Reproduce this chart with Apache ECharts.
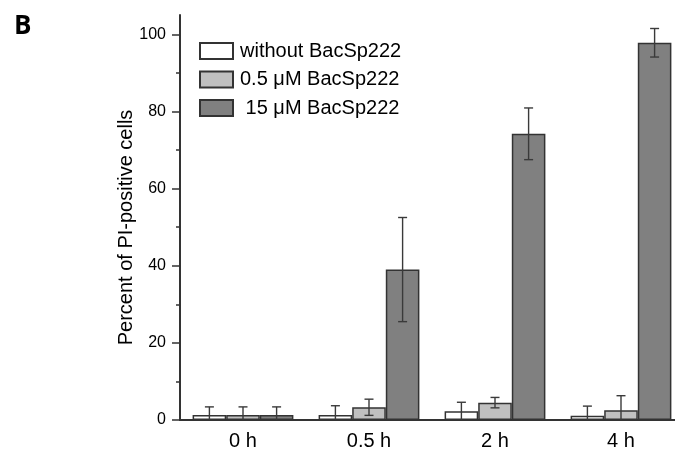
<!DOCTYPE html>
<html>
<head>
<meta charset="utf-8">
<script src="https://cdn.jsdelivr.net/npm/echarts@6/dist/echarts.min.js"></script>
<style>html,body{margin:0;padding:0;background:#fff}#c{width:675px;height:451px}</style>
</head>
<body>
<div id="c"></div>
<script>
var categories = ['0 h', '0.5 h', '2 h', '4 h'];
var seriesNames = ['without BacSp222', '0.5 \u03bcM BacSp222', ' 15 \u03bcM BacSp222'];
var withoutVals = [1.3, 1.3, 2.3, 1.1];
var withoutErr = [2.1, 2.4, 2.3, 2.5];
var lowVals = [1.3, 3.3, 4.5, 2.5];
var lowErr = [2.1, 2.1, 1.35, 3.8];
var highVals = [1.3, 39.0, 74.2, 97.8];
var highErr = [2.1, 13.5, 6.7, 3.7];
var yMajorTicks = [0, 20, 40, 60, 80, 100];
var yMinorTicks = [10, 30, 50, 70, 90];

var colors = ['#ffffff', '#c0c0c0', '#808080'];
var valsList = [withoutVals, lowVals, highVals];
var errList = [withoutErr, lowErr, highErr];
var FONT = 'Liberation Sans, Arial, sans-serif';

var chart = echarts.init(document.getElementById('c'), null, {renderer: 'canvas'});

var series = [];
valsList.forEach(function (vals, s) {
  series.push({
    name: seriesNames[s],
    type: 'bar',
    data: vals,
    barGap: '0%',
    barCategoryGap: '20%',
    itemStyle: {color: colors[s], borderColor: '#333', borderWidth: 1.5},
    emphasis: {disabled: true},
    z: 2
  });
});
valsList.forEach(function (vals, s) {
  series.push({
    type: 'custom',
    name: 'err' + s,
    z: 5,
    silent: true,
    encode: {x: 0, y: 1},
    data: vals.map(function (v, i) { return [i, v, errList[s][i]]; }),
    renderItem: function (params, api) {
      var i = api.value(0), m = api.value(1), e = api.value(2);
      var bandW = api.size([1, 0])[0];
      var barW = bandW * 0.8 / 3;
      var c = api.coord([i, m]);
      var x = c[0] + (s - 1) * barW;
      var lo = Math.max(0, m - e);
      var yTop = api.coord([i, m + e])[1];
      var yLo = api.coord([i, lo])[1];
      var cap = 4.5;
      var st = {stroke: '#3a3a3a', lineWidth: 1.4};
      var children = [
        {type: 'line', shape: {x1: x, y1: yTop, x2: x, y2: yLo}, style: st},
        {type: 'line', shape: {x1: x - cap, y1: yTop, x2: x + cap, y2: yTop}, style: st}
      ];
      if (m - e > 0) {
        children.push({type: 'line', shape: {x1: x - cap, y1: yLo, x2: x + cap, y2: yLo}, style: st});
      }
      return {type: 'group', children: children};
    }
  });
});

chart.setOption({
  animation: false,
  backgroundColor: '#fff',
  textStyle: {fontFamily: FONT},
  title: {
    text: 'B', left: 9, top: 9,
    textStyle: {fontFamily: 'Open Sans, sans-serif', fontWeight: 'bold', fontSize: 26, color: '#000'}
  },
  grid: {left: 180, width: 504, top: 15, bottom: 31, outerBoundsMode: 'none', containLabel: false},
  legend: {
    data: seriesNames,
    orient: 'vertical',
    left: 194, top: 36,
    itemWidth: 33, itemHeight: 16, itemGap: 8.5,
    icon: 'rect',
    selectedMode: false,
    textStyle: {fontSize: 20, color: '#000', fontFamily: FONT, padding: [0, 0, 0, 2]}
  },
  xAxis: {
    type: 'category',
    data: categories,
    axisLine: {lineStyle: {color: '#333', width: 2}},
    axisTick: {show: false},
    axisLabel: {fontSize: 20, color: '#000', margin: 11, fontFamily: FONT}
  },
  yAxis: [{
    type: 'value',
    min: 0, max: 105,
    name: 'Percent of PI-positive cells',
    nameLocation: 'middle',
    nameGap: 44,
    nameMoveOverlap: false,
    nameTextStyle: {fontSize: 20, color: '#000', fontFamily: FONT, padding: [0, 20, 0, 0]},
    axisLine: {show: true, lineStyle: {color: '#333', width: 2}},
    axisTick: {show: true, length: 8, customValues: yMajorTicks, lineStyle: {color: '#333', width: 1.5}},
    axisLabel: {fontSize: 16, color: '#000', margin: 14, customValues: yMajorTicks, fontFamily: FONT},
    splitLine: {show: false}
  }, {
    type: 'value',
    min: 0, max: 105,
    position: 'left',
    axisLine: {show: false},
    axisTick: {show: true, length: 4, customValues: yMinorTicks, lineStyle: {color: '#333', width: 1.5}},
    axisLabel: {show: false},
    splitLine: {show: false}
  }],
  series: series
});
</script>
</body>
</html>
